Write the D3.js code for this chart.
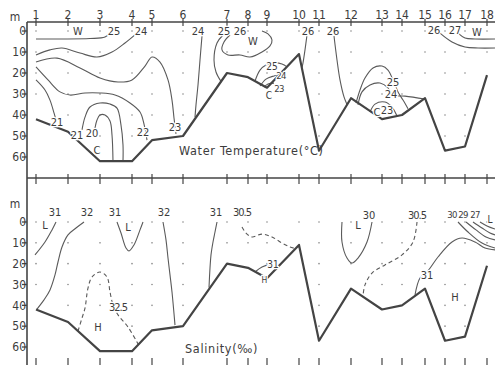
<!DOCTYPE html>
<html><head><meta charset="utf-8">
<script src="https://cdn.jsdelivr.net/npm/d3@7"></script>
<style>
body{margin:0;background:#fff}
text{font-family:"DejaVu Sans Condensed","DejaVu Sans",sans-serif;font-stretch:condensed;fill:#3c3c3c}
</style>
</head><body>
<svg id="c" width="495" height="365"></svg>
<script>
// ---- data ----
const stations = [1,2,3,4,5,6,7,8,9,10,11,12,13,14,15,16,17,18];
const stationKm = [0,32,64,96,116,147,191,212,231,263,283,315,346,366,389,409,429,451];
const bottomDepth = [42,48,62,62,52,50,20,22,27,11,57,32,42,40,32,57,55,21];
const depthTicks = [0,10,20,30,40,50,60];

// temperature isolines: [distance, depth]
const tempIsolines = [
  {v:"25", pts:[[0,3.8],[24,3.8],[54,3.6],[69,2.9],[74,1]]},
  {v:"24", pts:[[0,11.4],[14,9],[26,8.1],[44,10.5],[61,12.4],[76,10],[89,5.7],[101,1]]},
  {v:"23", pts:[[0,14.8],[21,12.9],[44,17.6],[64,22.4],[82,24.3],[96,23.3],[109,16.7],[116,12.4],[124,14.8],[132,23.3],[136,32.9],[138,41.4],[140,49]]},
  {v:"22", pts:[[0,17.1],[12,23.3],[24,29],[34,30.5],[49,29.5],[64,29.5],[79,30.5],[94,34.3],[104,38.6],[108,44.3],[111,52]]},
  {v:"21", pts:[[0,23.3],[9,28.1],[14,32.9],[18,39],[20,42.4]]},
  {v:"21", pts:[[46,47.1],[49,41],[54,36.2],[64,34.3],[74,34.8],[81,36.7],[85,44.8],[87,54.3],[87,62]]},
  {v:"20", pts:[[59,46.2],[61,42.4],[64,40],[69,40],[74,42.9],[76,49.5],[77,62]]},
  {v:"24", pts:[[166,2.4],[164,13.8],[162,25.7],[160,35.2],[159,41]]},
  {v:"25", pts:[[187,1.9],[181,5.7],[178,13.8],[180,19.5],[185,24]]},
  {v:"26", pts:[[194,1.9],[188,5.2],[186,9],[192,11.4],[204,11.4],[214,12.4],[226,10],[234,7.1],[236,4.3],[232,1.4],[226,0]]},
  {v:"25", pts:[[219,23.8],[224,18.6],[230,16.2],[238,15.2],[246,15.7],[251,17.1]]},
  {v:"24", pts:[[224,26.2],[230,22.9],[238,21.4],[246,20.5],[248,19]]},
  {v:"23", pts:[[228,26.7],[232,25.2],[238,24.8]]},
  {v:"26", pts:[[271,1.9],[269,9],[267,15.2],[266,17.5]]},
  {v:"26", pts:[[298,2.4],[301,13.8],[304,23.3],[308,31.4],[311,35]]},
  {v:"25", pts:[[320,34.3],[324,28.1],[329,22.4],[337,17.6],[346,16.7],[352,18.6],[357,23.3],[362,29],[367,32.9],[372,37]]},
  {v:"24", pts:[[322,35.2],[326,29],[334,25.7],[344,24.8],[352,27.1],[356,30.5],[369,31],[389,32.4]]},
  {v:"23", pts:[[334,38.6],[339,34.8],[349,33.8],[356,36.2],[361,40.5]]},
  {v:"26", pts:[[404,1],[416,5.2],[429,7.6],[442,8.1],[459,8.1]]},
  {v:"27", pts:[[422,1],[429,3.3],[439,3.8],[459,3.8]]}
];
// temperature labels: [text, distance, depth, size]
const tempLabels = [
  ["W",42,0.2,11],["25",78,-0.2,11],["24",105,-0.2,11],["21",21,43.3,11],["21",41,49.5,11],["20",56,48.8,11],["C",61,56.6,11],
  ["22",107,48.1,11],["23",139,45.7,11],["24",162,0,11],["25",188,0,11],["26",204,0,11],["W",217,4.8,11],
  ["25",236,16.7,10],["24",245,21.3,9.5],["23",243,27.3,9.5],["C",233,30.8,10],["26",272,0,11],["26",297,0,11],
  ["25",357,24.3,11],["24",355,30,11],["23",351,37.5,11],["C",341,38.8,11],["26",398,-0.4,11],["27",419,-0.4,11],["W",441,0.7,11]
];

// salinity isolines
const salIsolines = [
  {v:"31", pts:[[20,0],[16,3.8],[9,9.6],[-1,15.8]]},
  {v:"32", pts:[[48,0],[40,2.9],[32,6.2],[26,12],[22,19.2],[19,25.4],[14,32.6],[8,37.4],[1,41.8]]},
  {v:"31", pts:[[81,0],[85,5.3],[90,12.5],[93,13.9],[98,11],[104,3.8],[107,0]]},
  {v:"32", pts:[[127,0],[130,8.6],[132,17.3],[134,25.4],[136,33.6],[139,49.5]]},
  {v:"32.5", dash:true, pts:[[42,52.4],[46,46.1],[49,41.3],[52,31.7],[56,26.4],[64,24],[71,26.4],[74,33.6],[77,39.8],[82,44.6],[92,50.4],[102,58.5]]},
  {v:"31", pts:[[181,0],[179,4.8],[177,9.6],[175,15.8],[174,22.1],[173,31.5]]},
  {v:"30.5", dash:true, pts:[[206,2.4],[210,5.3],[216,7.2],[226,5.8],[236,7.2],[246,10.1],[254,12],[260,12.8]]},
  {v:"31", pts:[[219,24],[226,21.6],[234,20.6],[241,23]]},
  {v:"30", pts:[[306,0],[306,9.6],[311,17.3],[316,19.7],[322,17.3],[331,9.6],[336,0]]},
  {v:"30.5", dash:true, pts:[[381,0],[377,9.6],[366,15.8],[349,20.6],[336,24.5],[329,30.2],[327,35.5]]},
  {v:"31", pts:[[379,35],[384,26.9],[391,24],[402,16.8],[416,9.6],[426,7.7],[439,9.6],[449,12.5],[459,13.4]]},
  {v:"30", pts:[[422,0],[432,4.8],[446,10.1],[459,12.5]]},
  {v:"29", pts:[[430,0],[440,3.8],[450,7.2],[459,8.6]]},
  {v:"28", pts:[[437,0],[446,2.9],[454,5.3],[459,6.2]]},
  {v:"27", pts:[[444,0],[451,1.9],[459,3.4]]}
];
const salLabels = [
  ["31",19,-4.8,11],["32",51,-4.8,11],["31",79,-4.8,11],["32",128,-4.8,11],["31",180,-4.6,11],["30.5",206,-4.8,11],
  ["L",9,1.4,11],["L",92,2.4,11],["32.5",82,40.8,11],["H",62,50.4,11],["31",237,20.3,10],["H",228,27.6,8.5],
  ["30",333,-3.4,11],["L",322,1.4,11],["30.5",381,-3.4,11],["31",391,25.4,11],["H",419,36,11],
  ["30",416,-3.4,9.5],["29",427,-3.4,9.5],["27",439,-3.4,9.5],["L",454,-1.4,10]
];

const titles = ["Water Temperature(°C)", "Salinity(‰)"];

// ---- drawing ----
const svg = d3.select("#c");
const W = 495, H = 365;
const x = d3.scaleLinear().domain([-9, 459]).range([27, 495]);
const yT = d3.scaleLinear().domain([0, 60]).range([31, 157]);
const yB = d3.scaleLinear().domain([0, 60]).range([222, 347]);
const ink = "#444", lineInk = "#5a5a5a";

// axes frame
const axisG = svg.append("g").attr("stroke", ink).attr("stroke-width", 1.6).attr("fill","none");
axisG.append("line").attr("x1", x.range()[0]).attr("x2", W).attr("y1", 22).attr("y2", 22);
axisG.append("line").attr("x1", x.range()[0]).attr("x2", W).attr("y1", 178).attr("y2", 178);
axisG.append("line").attr("x1", x.range()[0]).attr("x2", x.range()[0]).attr("y1", 22).attr("y2", H);

// station ticks
stations.forEach((s, i) => {
  const px = x(stationKm[i]);
  axisG.append("line").attr("x1", px).attr("x2", px).attr("y1", 19).attr("y2", 26).attr("stroke-width",1.2);
  axisG.append("line").attr("x1", px).attr("x2", px).attr("y1", 174).attr("y2", 184).attr("stroke-width",1.2);
  axisG.append("line").attr("x1", px).attr("x2", px).attr("y1", 358).attr("y2", 365).attr("stroke-width",1.2);
  svg.append("text").attr("x", px).attr("y", 19).attr("text-anchor", "middle")
    .attr("font-size", 12).text(s);
});

function panel(y, isolines, labels, title, titleKm, titleDepth, mY) {
  const g = svg.append("g");
  // depth axis
  depthTicks.forEach(t => {
    g.append("line").attr("x1", 22).attr("x2", 27).attr("y1", y(t)).attr("y2", y(t))
      .attr("stroke", ink).attr("stroke-width", 1.3);
    g.append("text").attr("x", 26).attr("y", y(t)).attr("dy", "0.36em").attr("text-anchor", "end")
      .attr("font-size", 12).text(t);
  });
  g.append("text").attr("x", 15).attr("y", mY).attr("text-anchor", "middle").attr("font-size", 12).text("m");

  // sample points
  stations.forEach((s, i) => {
    depthTicks.filter(t => t <= bottomDepth[i] - 3).forEach(t => {
      g.append("circle").attr("cx", x(stationKm[i])).attr("cy", y(t)).attr("r", 0.8).attr("fill", "#888");
    });
  });

  // isolines
  const line = d3.line().x(d => x(d[0])).y(d => y(d[1])).curve(d3.curveCatmullRom.alpha(0.5));
  g.selectAll("path.iso").data(isolines).join("path").attr("class", "iso")
    .attr("d", d => line(d.pts)).attr("fill", "none").attr("stroke", lineInk)
    .attr("stroke-width", 1.1).attr("stroke-dasharray", d => d.dash ? "4,3" : null);

  // bottom profile
  const bl = d3.line().x((d, i) => x(stationKm[i])).y(d => y(d));
  g.append("path").attr("d", bl(bottomDepth)).attr("fill", "none").attr("stroke", ink)
    .attr("stroke-width", 2.2).attr("stroke-linejoin", "round");

  // labels
  g.selectAll("text.lab").data(labels).join("text").attr("class", "lab")
    .attr("x", d => x(d[1])).attr("y", d => y(d[2])).attr("dy", "0.36em")
    .attr("text-anchor", "middle").attr("font-size", d => d[3])
    .attr("letter-spacing", d => d[0].includes(".") ? -1 : (d[3] < 10 ? -0.6 : 0))
    .attr("stroke", "#fff").attr("stroke-width", 2.5).attr("paint-order", "stroke")
    .text(d => d[0]);

  g.append("text").attr("x", x(titleKm)).attr("y", y(titleDepth)).attr("dy", "0.36em")
    .attr("font-size", 12.5).attr("letter-spacing", 0.7).text(title);
}

panel(yT, tempIsolines, tempLabels, titles[0], 143, 56.7, 21);
panel(yB, salIsolines, salLabels, titles[1], 149, 60.5, 208);
</script>
</body></html>
